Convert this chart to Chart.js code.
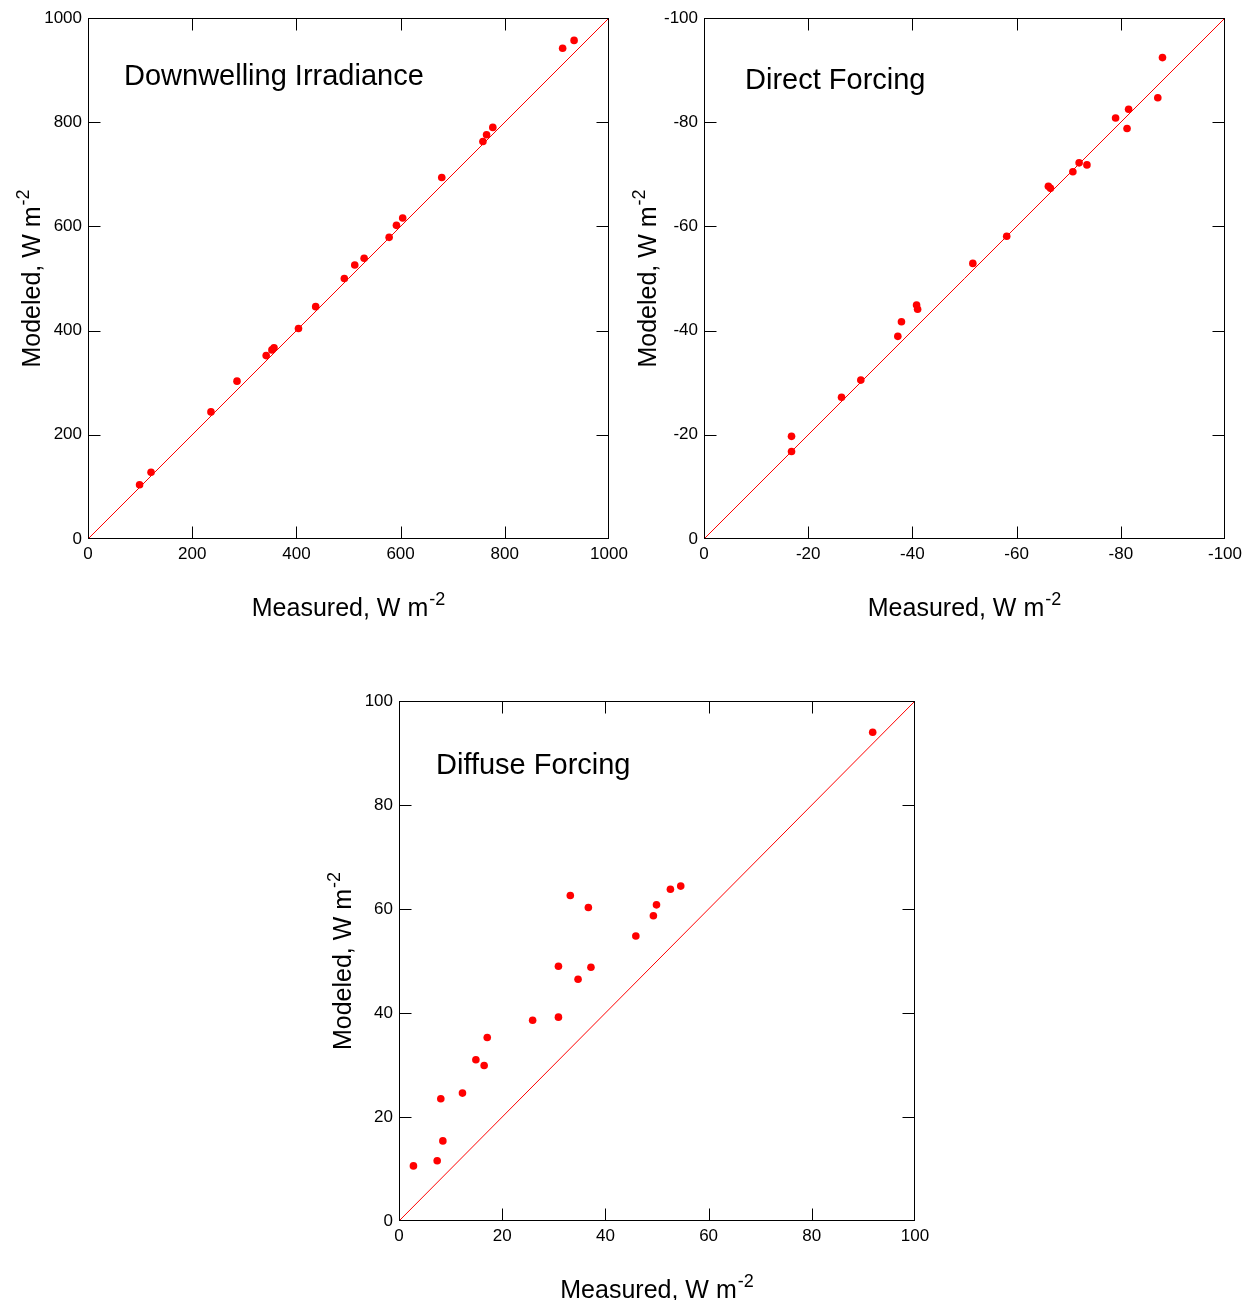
<!DOCTYPE html>
<html>
<head>
<meta charset="utf-8">
<script src="https://cdn.jsdelivr.net/npm/chart.js@4.4.1/dist/chart.umd.min.js"></script>
<style>
  body { margin: 0; background: #fff; width: 1251px; height: 1300px; position: relative; overflow: hidden; }
  canvas { position: absolute; }
</style>
</head>
<body>
<canvas id="downChart" style="left:0px;top:0px" width="640" height="640"></canvas>
<canvas id="directChart" style="left:616px;top:0px" width="635" height="640"></canvas>
<canvas id="diffuseChart" style="left:311px;top:683px" width="640" height="617"></canvas>
<script>
// Downwelling irradiance, W m-2
const downMeasured = [99, 121, 236, 286, 342, 353, 357, 404, 437, 492, 512, 530, 578, 592, 604, 679, 758, 765, 777, 911, 933];
const downModeled  = [104, 128, 244, 303, 352, 363, 367, 404, 446, 500, 526, 539, 579, 602, 616, 694, 763, 776, 790, 942, 957];
const downTicks = [0, 200, 400, 600, 800, 1000];
const downRange = [0, 1000];

// Direct forcing (negative values, axes run 0 -> -100)
const directMeasured = [-16.8, -16.8, -26.4, -30.1, -37.2, -37.9, -40.8, -41.0, -51.6, -58.1, -66.1, -66.5, -70.8, -72.0, -73.5, -79.0, -81.2, -81.5, -87.1, -88.0];
const directModeled  = [-19.7, -16.8, -27.2, -30.5, -38.9, -41.7, -44.9, -44.1, -52.9, -58.1, -67.7, -67.3, -70.5, -72.2, -71.8, -80.8, -78.8, -82.5, -84.7, -92.4];
const directTicks = [0, -20, -40, -60, -80, -100];
const directRange = [-100, 0];

// Diffuse forcing
const diffuseMeasured = [2.8, 7.4, 8.5, 8.1, 12.3, 16.5, 14.9, 17.1, 25.9, 30.9, 34.7, 30.9, 37.2, 36.7, 33.2, 45.9, 49.3, 49.9, 52.6, 54.6, 91.8];
const diffuseModeled  = [10.6, 11.6, 15.4, 23.5, 24.6, 29.9, 31.0, 35.3, 38.6, 39.2, 46.5, 49.0, 48.8, 60.3, 62.6, 54.8, 58.7, 60.8, 63.8, 64.4, 94.0];
const diffuseTicks = [0, 20, 40, 60, 80, 100];
const diffuseRange = [0, 100];

const FONT = '"Liberation Sans", Arial, Helvetica, sans-serif';

// text with a raised "-2" after it
function drawUnitLabel(ctx, cx, cy, vertical) {
  const text = vertical ? 'Modeled, W m' : 'Measured, W m';
  const sup = '-2';
  ctx.save();
  ctx.fillStyle = '#000';
  ctx.textBaseline = 'alphabetic';
  ctx.textAlign = 'left';
  ctx.font = '25px ' + FONT;
  const w1 = ctx.measureText(text).width;
  ctx.font = '18px ' + FONT;
  const w2 = ctx.measureText(sup).width;
  const total = w1 + w2 + 1;
  if (vertical) {
    ctx.translate(cx, cy);
    ctx.rotate(-Math.PI / 2);
    ctx.translate(-cx, -cy);
  }
  const x0 = cx - total / 2;
  ctx.font = '25px ' + FONT;
  ctx.fillText(text, x0, cy);
  ctx.font = '18px ' + FONT;
  ctx.fillText(sup, x0 + w1 + 1, cy - 11);
  ctx.restore();
}

const framePlugin = {
  id: 'frame',
  afterDraw(chart, args, opts) {
    const { ctx, chartArea: a, scales } = chart;
    const L = Math.round(a.left) + 0.5, R = Math.round(a.right) - 0.5;
    const T = Math.round(a.top) + 0.5, B = Math.round(a.bottom) - 0.5;
    ctx.save();
    ctx.strokeStyle = '#000';
    ctx.lineWidth = 1;
    ctx.strokeRect(L, T, R - L, B - T);
    const len = 12;
    ctx.beginPath();
    scales.x.ticks.slice(1, -1).forEach(t => {
      const px = Math.round(scales.x.getPixelForValue(t.value)) + 0.5;
      ctx.moveTo(px, B); ctx.lineTo(px, B - len);
      ctx.moveTo(px, T); ctx.lineTo(px, T + len);
    });
    scales.y.ticks.slice(1, -1).forEach(t => {
      const py = Math.round(scales.y.getPixelForValue(t.value)) + 0.5;
      ctx.moveTo(L, py); ctx.lineTo(L + len, py);
      ctx.moveTo(R, py); ctx.lineTo(R - len, py);
    });
    ctx.stroke();

    // panel title
    ctx.fillStyle = '#000';
    ctx.font = '29px ' + FONT;
    ctx.textAlign = 'left';
    ctx.textBaseline = 'alphabetic';
    ctx.fillText(opts.title, a.left + opts.tx, a.top + opts.ty);
    ctx.restore();

    drawUnitLabel(ctx, (a.left + a.right) / 2, a.bottom + 77, false);
    drawUnitLabel(ctx, a.left - 48, (a.top + a.bottom) / 2, true);
  }
};

function makeChart(id, xs, ys, ticks, range, reverse, title, tx, ty, padRight, xHeight) {
  const pts = xs.map((x, i) => ({ x: x, y: ys[i] }));
  const tickFont = { family: FONT, size: 17 };
  const plain = v => String(v);
  return new Chart(document.getElementById(id), {
    type: 'scatter',
    data: {
      datasets: [
        {
          data: [{ x: range[0], y: range[0] }, { x: range[1], y: range[1] }],
          showLine: true,
          borderColor: '#ff0000',
          borderWidth: 1,
          pointRadius: 0
        },
        {
          data: pts,
          backgroundColor: '#ff0000',
          borderWidth: 0,
          pointRadius: 3.8
        }
      ]
    },
    options: {
      responsive: false,
      animation: false,
      layout: { padding: { top: 18, right: padRight, left: 0, bottom: 0 } },
      plugins: {
        legend: { display: false },
        tooltip: { enabled: false },
        frame: { title: title, tx: tx, ty: ty }
      },
      scales: {
        x: {
          type: 'linear', min: range[0], max: range[1], reverse: reverse,
          afterBuildTicks: s => { s.ticks = ticks.map(v => ({ value: v })); },
          afterFit: s => { s.height = xHeight; },
          grid: { display: false, drawTicks: false },
          border: { display: false },
          ticks: { color: '#000', font: tickFont, padding: 5, maxRotation: 0, autoSkip: false, callback: plain }
        },
        y: {
          type: 'linear', min: range[0], max: range[1], reverse: reverse,
          afterBuildTicks: s => { s.ticks = ticks.map(v => ({ value: v })); },
          afterFit: s => { s.width = 88; },
          grid: { display: false, drawTicks: false },
          border: { display: false },
          ticks: { color: '#000', font: tickFont, padding: 6, autoSkip: false, callback: plain }
        }
      }
    },
    plugins: [framePlugin]
  });
}

makeChart('downChart', downMeasured, downModeled, downTicks, downRange, false, 'Downwelling Irradiance', 36, 67, 31, 101);
makeChart('directChart', directMeasured, directModeled, directTicks, directRange, true, 'Direct Forcing', 41, 71, 26, 101);
makeChart('diffuseChart', diffuseMeasured, diffuseModeled, diffuseTicks, diffuseRange, false, 'Diffuse Forcing', 37, 73, 36, 79);
</script>
</body>
</html>
